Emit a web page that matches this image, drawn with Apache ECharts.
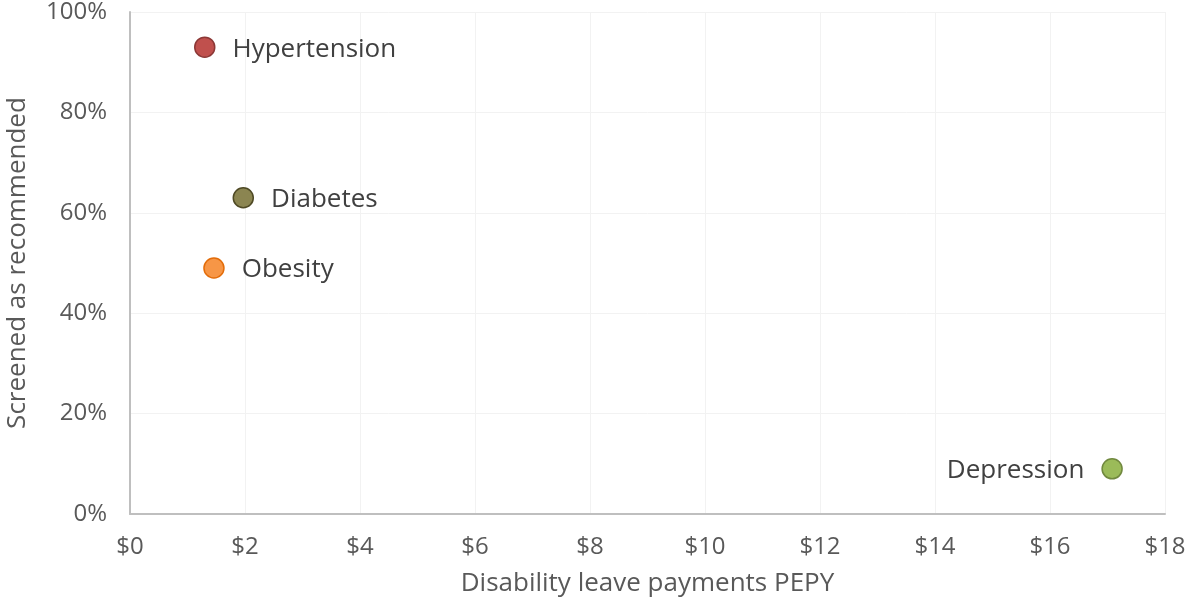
<!DOCTYPE html>
<html>
<head>
<meta charset="utf-8">
<script src="https://cdn.jsdelivr.net/npm/echarts@6/dist/echarts.min.js"></script>
<style>
  html, body { margin: 0; padding: 0; background: #fff; }
  #chart { width: 1186px; height: 601px; }
</style>
</head>
<body>
<div id="chart"></div>
<script>
// Screening rate vs. disability leave payments per employee per year
const conditions = ['Hypertension', 'Diabetes', 'Obesity', 'Depression'];
const paymentsPEPY = [1.3, 1.97, 1.46, 17.08];
const screenedPct = [93, 63, 49, 9];
const fillColors = ['#c0504d', '#8b8551', '#f79646', '#9bbb59'];
const borderColors = ['#8c3836', '#4f4a25', '#e36c09', '#71893f'];
const labelSides = ['right', 'right', 'right', 'left'];

const FONT = '"Open Sans", "Noto Sans", sans-serif';

const chart = echarts.init(document.getElementById('chart'));
chart.setOption({
  animation: false,
  grid: { left: 130, right: 21, top: 12, bottom: 87, outerBoundsMode: 'none', containLabel: false },
  xAxis: {
    type: 'value', min: 0, max: 18, interval: 2,
    name: 'Disability leave payments PEPY',
    nameLocation: 'middle', nameGap: 57,
    nameTextStyle: { fontFamily: FONT, fontSize: 26, color: '#595959' },
    axisLine: { show: true, lineStyle: { color: '#bfbfbf', width: 2 } },
    axisTick: { show: false },
    axisLabel: { fontFamily: FONT, fontSize: 24, color: '#595959', margin: 21,
      formatter: v => '$' + v },
    splitLine: { show: true, lineStyle: { color: '#f2f2f2', width: 1 } }
  },
  yAxis: {
    type: 'value', min: 0, max: 100, interval: 20,
    name: 'Screened as recommended',
    nameLocation: 'middle', nameGap: 99,
    nameTextStyle: { fontFamily: FONT, fontSize: 26, color: '#595959' },
    axisLine: { show: true, lineStyle: { color: '#bfbfbf', width: 2 } },
    axisTick: { show: false },
    axisLabel: { fontFamily: FONT, fontSize: 24, color: '#595959', margin: 23,
      formatter: v => v + '%' },
    splitLine: { show: true, lineStyle: { color: '#f2f2f2', width: 1 } }
  },
  series: [{
    type: 'scatter',
    symbolSize: 20,
    data: conditions.map((name, i) => ({
      name,
      value: [paymentsPEPY[i], screenedPct[i]],
      itemStyle: { color: fillColors[i], borderColor: borderColors[i], borderWidth: 1.5, opacity: 1 },
      label: { position: labelSides[i] }
    })),
    label: {
      show: true,
      formatter: p => p.name,
      distance: 17,
      offset: [0, 2],
      fontFamily: FONT, fontSize: 26, color: '#404040'
    }
  }]
});
</script>
</body>
</html>
